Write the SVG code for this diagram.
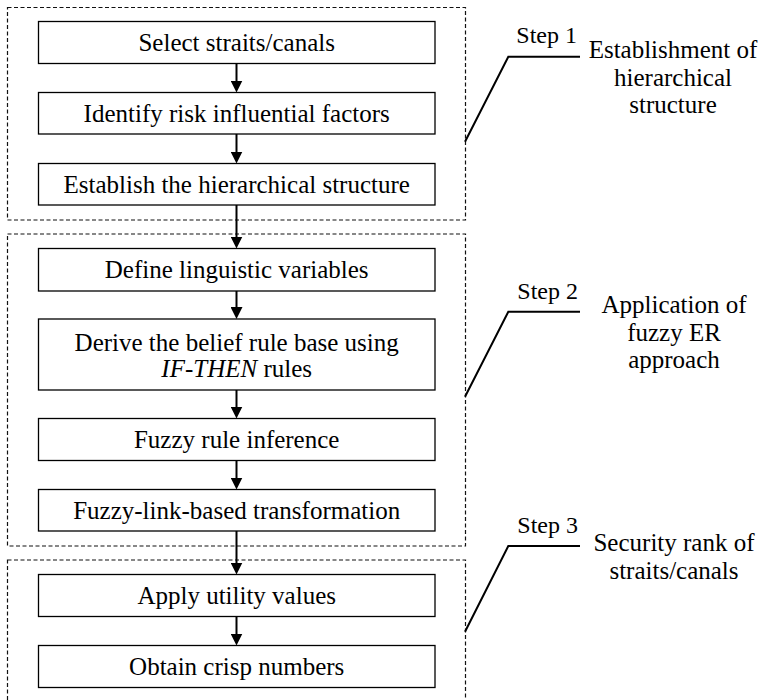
<svg xmlns="http://www.w3.org/2000/svg" width="763" height="700" viewBox="0 0 763 700">
<style>
  .box { fill: #ffffff; stroke: #000000; stroke-width: 1.3; }
  .grp { fill: none; stroke: #111111; stroke-width: 1.2; stroke-dasharray: 4 2.5; }
  .t { font-family: "Liberation Serif", "Times New Roman", serif; font-size: 25px; fill: #000000; text-anchor: middle; }
  .step { font-family: "Liberation Serif", "Times New Roman", serif; font-size: 24px; fill: #000000; text-anchor: end; }
  .arrow { fill: none; stroke: #000000; stroke-width: 2; marker-end: url(#ah); }
  .lead { fill: none; stroke: #000000; stroke-width: 2; }
</style>
<defs>
  <marker id="ah" viewBox="0 0 12 12" refX="8" refY="6" markerWidth="12" markerHeight="12" markerUnits="userSpaceOnUse" orient="auto">
    <path d="M0,0 L12,6 L0,12 z" fill="#000000"/>
  </marker>
</defs>
<rect width="763" height="700" fill="#ffffff"/>

<g id="groups">
  <rect class="grp" x="7.5" y="7.5" width="458" height="212.5"/>
  <rect class="grp" x="7.5" y="234" width="458" height="312"/>
  <rect class="grp" x="7.5" y="560" width="458" height="145"/>
</g>

<g id="connectors">
  <line class="arrow" x1="236.5" y1="63.5" x2="236.5" y2="88.5"/>
  <line class="arrow" x1="236.5" y1="134" x2="236.5" y2="159.5"/>
  <line class="arrow" x1="236.5" y1="205" x2="236.5" y2="244.5"/>
  <line class="arrow" x1="236.5" y1="291" x2="236.5" y2="315"/>
  <line class="arrow" x1="236.5" y1="390" x2="236.5" y2="414.5"/>
  <line class="arrow" x1="236.5" y1="460.5" x2="236.5" y2="485.5"/>
  <line class="arrow" x1="236.5" y1="531" x2="236.5" y2="570.5"/>
  <line class="arrow" x1="236.5" y1="616.5" x2="236.5" y2="641.5"/>
  <polyline class="lead" points="465,141.7 508.3,56.7 580,56.7"/>
  <polyline class="lead" points="465,396.7 508.3,311.7 580,311.7"/>
  <polyline class="lead" points="465,631.7 508.3,546 580,546"/>
</g>

<g id="n1"><rect class="box" x="38.5" y="21.5" width="396.5" height="42"/><text class="t" x="236.7" y="51">Select straits/canals</text></g>
<g id="n2"><rect class="box" x="38.5" y="92.5" width="396.5" height="41.5"/><text class="t" x="236.7" y="121.5">Identify risk influential factors</text></g>
<g id="n3"><rect class="box" x="38.5" y="163.5" width="396.5" height="41.5"/><text class="t" x="236.7" y="192.8">Establish the hierarchical structure</text></g>
<g id="n4"><rect class="box" x="38.5" y="248.5" width="396.5" height="42.5"/><text class="t" x="236.7" y="278.3">Define linguistic variables</text></g>
<g id="n5"><rect class="box" x="38.5" y="319" width="396.5" height="71"/><text class="t" x="236.7" y="350.5">Derive the belief rule base using</text><text class="t" x="236.7" y="376.5"><tspan font-style="italic">IF-THEN</tspan> rules</text></g>
<g id="n6"><rect class="box" x="38.5" y="418.5" width="396.5" height="42"/><text class="t" x="236.7" y="448">Fuzzy rule inference</text></g>
<g id="n7"><rect class="box" x="38.5" y="489.5" width="396.5" height="41.5"/><text class="t" x="236.7" y="518.8">Fuzzy-link-based transformation</text></g>
<g id="n8"><rect class="box" x="38.5" y="574.5" width="396.5" height="42"/><text class="t" x="236.7" y="604">Apply utility values</text></g>
<g id="n9"><rect class="box" x="38.5" y="645.5" width="396.5" height="42"/><text class="t" x="236.7" y="675">Obtain crisp numbers</text></g>

<g id="step1">
  <text class="step" x="577" y="43.3">Step 1</text>
  <text class="t" x="673" y="58">Establishment of</text>
  <text class="t" x="673" y="86">hierarchical</text>
  <text class="t" x="673" y="113">structure</text>
</g>
<g id="step2">
  <text class="step" x="578" y="299.3">Step 2</text>
  <text class="t" x="674" y="313">Application of</text>
  <text class="t" x="674" y="341">fuzzy ER</text>
  <text class="t" x="674" y="368">approach</text>
</g>
<g id="step3">
  <text class="step" x="578" y="532.7">Step 3</text>
  <text class="t" x="674" y="551">Security rank of</text>
  <text class="t" x="674" y="578.5">straits/canals</text>
</g>
</svg>
